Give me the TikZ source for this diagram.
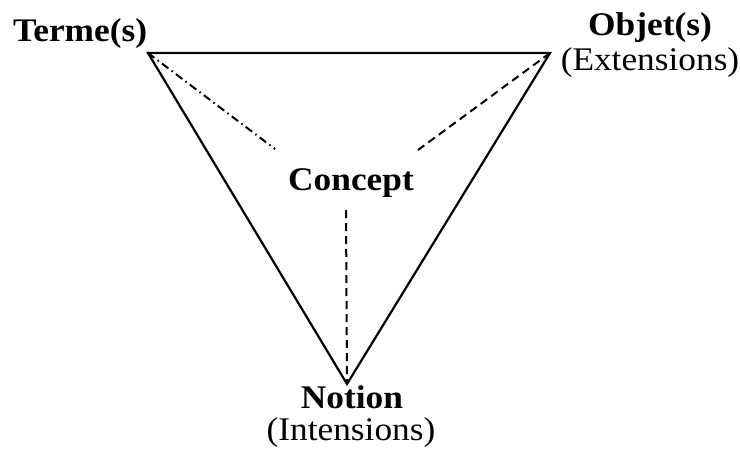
\documentclass[tikz,border=0pt]{standalone}
\usepackage{fontspec}
\setmainfont{Liberation Serif}
\newcommand{\lbl}[1]{\scalebox{1.07}[1]{#1}}
\begin{document}
\begin{tikzpicture}[x=1pt,y=-1pt,
  lab/.style={inner sep=0pt,anchor=base,font=\fontsize{33}{39}\selectfont},
  side/.style={line width=2.2pt,line join=miter},
  dsh/.style={line width=2pt,dash pattern=on 8pt off 5pt},
  dshdot/.style={line width=2pt,dash pattern=on 8pt off 4pt on 1.5pt off 4pt}]
\useasboundingbox (0,0) rectangle (740,448);
\coordinate (T) at (148,53);
\coordinate (O) at (550,53);
\coordinate (N) at (347,384);
\coordinate (cl) at (275,149);
\coordinate (cr) at (418,150);
\coordinate (cb) at (346,210);
\node[lab] (terme) at (80,41) {\lbl{\textbf{Terme(s)}}};
\node[lab] (objet) at (650,35) {\lbl{\textbf{Objet(s)}}};
\node[lab] (ext) at (650,70) {\lbl{(Extensions)}};
\node[lab] (concept) at (351,190) {\lbl{\textbf{Concept}}};
\node[lab] (notion) at (352,408) {\lbl{\textbf{Notion}}};
\node[lab] (int) at (351,440) {\lbl{(Intensions)}};
\draw[side] (T) -- (O) -- (N) -- cycle;
\draw[dshdot] (T) -- (cl);
\draw[dsh] (O) -- (cr);
\draw[dsh] (cb) -- (N);
\end{tikzpicture}
\end{document}
